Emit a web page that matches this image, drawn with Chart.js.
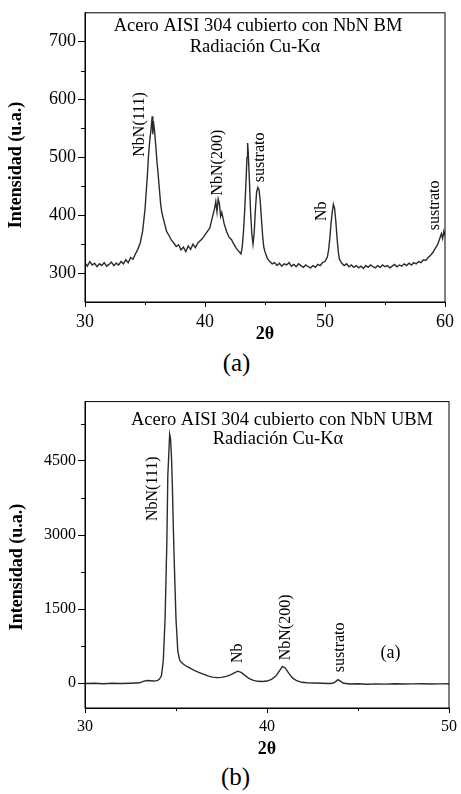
<!DOCTYPE html>
<html>
<head>
<meta charset="utf-8">
<script src="https://cdn.jsdelivr.net/npm/chart.js@4/dist/chart.umd.min.js"></script>
<style>
  body { margin: 0; background: #fff; width: 461px; height: 794px; position: relative; overflow: hidden; }
  .box { position: absolute; left: 0; width: 461px; }
  .pie { position: absolute; width: 461px; text-align: center; font-family: 'Liberation Serif', serif; font-size: 25px; color: #000; }
</style>
</head>
<body>
<div class="box" style="top:0;height:345px"><canvas id="graficoA"></canvas></div>
<div class="pie" style="left:6px;top:349px">(a)</div>
<div class="box" style="top:390px;height:370px"><canvas id="graficoB"></canvas></div>
<div class="pie" style="left:5px;top:763px">(b)</div>
<script>
// Difractograma (a): NbN BM, 2θ vs intensidad
const dosThetaA = [
  30.0, 30.2, 30.4, 30.6, 30.8, 31.0, 31.2, 31.4, 31.6, 31.8, 32.0, 32.2, 32.4, 32.6, 32.8,
  33.0, 33.2, 33.4, 33.6, 33.8, 34.0, 34.2, 34.4, 34.6, 34.8, 35.0, 35.1, 35.2, 35.3, 35.4,
  35.5, 35.6, 35.65, 35.7, 35.8, 35.9, 36.0, 36.1, 36.2, 36.3, 36.4, 36.6, 36.8, 37.0, 37.2,
  37.4, 37.6, 37.8, 38.0, 38.2, 38.4, 38.6, 38.8, 39.0, 39.2, 39.4, 39.6, 39.8, 40.0, 40.2,
  40.4, 40.6, 40.8, 40.9, 41.0, 41.1, 41.2, 41.3, 41.4, 41.6, 41.8, 42.0, 42.2, 42.4, 42.6,
  42.8, 43.0, 43.1, 43.2, 43.3, 43.4, 43.5, 43.55, 43.6, 43.7, 43.8, 43.9, 44.0, 44.1, 44.2,
  44.3, 44.4, 44.5, 44.6, 44.7, 44.8, 44.9, 45.0, 45.2, 45.4, 45.6, 45.8, 46.0, 46.2, 46.4,
  46.6, 46.8, 47.0, 47.2, 47.4, 47.6, 47.8, 48.0, 48.2, 48.4, 48.6, 48.8, 49.0, 49.2, 49.4,
  49.6, 49.8, 50.0, 50.2, 50.3, 50.4, 50.5, 50.6, 50.7, 50.8, 50.9, 51.0, 51.1, 51.2, 51.4,
  51.6, 51.8, 52.0, 52.2, 52.4, 52.6, 52.8, 53.0, 53.2, 53.4, 53.6, 53.8, 54.0, 54.2, 54.4,
  54.6, 54.8, 55.0, 55.2, 55.4, 55.6, 55.8, 56.0, 56.2, 56.4, 56.6, 56.8, 57.0, 57.2, 57.4,
  57.6, 57.8, 58.0, 58.2, 58.4, 58.6, 58.8, 59.0, 59.2, 59.4, 59.6, 59.7, 59.8, 59.9, 60.0
];
const intensidadA = [
  318, 312, 320, 314, 317, 311, 316, 313, 318, 312, 315, 319, 313, 317, 314,
  320, 316, 323, 318, 327, 324, 333, 341, 352, 372, 410, 440, 470, 505, 530,
  548, 571, 540, 563, 545, 520, 492, 470, 445, 420, 405, 388, 372, 365, 357,
  352, 346, 349, 340, 345, 337, 347, 341, 350, 344, 352, 356, 360, 366, 372,
  378, 395, 412, 424, 406, 428, 420, 398, 405, 385, 372, 362, 358, 350, 343,
  338, 333, 345, 370, 405, 450, 500, 525, 510, 460, 405, 368, 350, 370, 410,
  440, 448, 444, 425, 395, 365, 345, 337, 325, 320, 316, 318, 313, 317, 312,
  316, 314, 318, 312, 315, 311, 316, 313, 310, 314, 311, 309, 313, 310, 315,
  313, 318, 320, 328, 340, 360, 385, 405, 419, 412, 390, 362, 338, 324, 317,
  313, 316, 311, 314, 310, 313, 309, 312, 308, 313, 310, 314, 311, 309, 313,
  310, 314, 311, 313, 309, 312, 315, 311, 314, 312, 316, 313, 317, 314, 318,
  316, 320, 318, 323, 322, 327, 331, 336, 343, 350, 362, 368, 360, 372, 365
];
const ticksXA = [30, 40, 50, 60];
const menoresXA = [35, 45, 55];
const ticksYA = [300, 400, 500, 600, 700];
const menoresYA = [350, 450, 550, 650];

// Difractograma (b): NbN UBM
const dosThetaB = [
  30.0, 30.5, 31.0, 31.5, 32.0, 32.5, 33.0, 33.2, 33.4, 33.6, 33.8, 34.0, 34.1, 34.2, 34.3,
  34.4, 34.5, 34.55, 34.6, 34.65, 34.7, 34.75, 34.8, 34.85, 34.9, 35.0, 35.1, 35.2, 35.3, 35.5,
  35.75, 36.0, 36.25, 36.5, 36.75, 37.0, 37.25, 37.5, 37.75, 38.0, 38.2, 38.4, 38.6, 38.8, 39.0,
  39.25, 39.5, 39.75, 40.0, 40.25, 40.5, 40.7, 40.85, 41.0, 41.2, 41.4, 41.6, 41.9, 42.2, 42.6,
  43.0, 43.4, 43.6, 43.75, 43.9, 44.05, 44.2, 44.6, 45.0, 45.5, 46.0, 46.5, 47.0, 47.5, 48.0,
  48.5, 49.0, 49.5, 50.0
];
const intensidadB = [
  -5, 0, -8, 0, -4, 2, 10, 40, 55, 50, 45, 60, 90, 150, 450,
  1300, 2900, 4200, 4600, 5040, 4950, 4600, 4000, 3200, 2500, 1300, 650, 470, 420, 360,
  310, 260, 220, 185, 150, 125, 115, 120, 140, 170, 210, 245, 215, 155, 100,
  60, 40, 35, 45, 80, 150, 260, 340, 310, 200, 110, 60, 20, 10, 5,
  0, -5, 0, 30, 75, 40, 0, -15, -10, -18, -12, -16, -10, -15, -12,
  -10, -14, -12, -10
];
const ticksXB = [30, 40, 50];
const menoresXB = [35, 45];
const ticksYB = [0, 1500, 3000, 4500];
const menoresYB = [750, 2250, 3750, 5250];

const fuente = "'Liberation Serif', 'Times New Roman', serif";

// Textos dentro del gráfico (posición en coordenadas de datos)
const rotulosA = [
  { t: 'NbN(111)', x: 34.58, y: 557, rot: true },
  { t: 'NbN(200)', x: 41.08, y: 491, rot: true },
  { t: 'sustrato', x: 44.58, y: 500, rot: true },
  { t: 'Nb', x: 49.75, y: 407, rot: true },
  { t: 'sustrato', x: 59.17, y: 417, rot: true }
];
const rotulosB = [
  { t: 'NbN(111)', x: 33.71, y: 3937, rot: true },
  { t: 'Nb', x: 38.39, y: 606, rot: true },
  { t: 'NbN(200)', x: 41.01, y: 1131, rot: true },
  { t: 'sustrato', x: 44.0, y: 727, rot: true },
  { t: '(a)', x: 46.79, y: 606, rot: false }
];

// Plugin: marco, ticks menores, títulos y rótulos
const decorado = {
  id: 'decorado',
  afterDraw(chart) {
    const c = chart.options.plugins.decorado;
    const { ctx, chartArea: a, scales } = chart;
    ctx.save();
    ctx.strokeStyle = '#000';
    ctx.lineWidth = 1;
    ctx.strokeRect(a.left, a.top, a.right - a.left, a.bottom - a.top);
    ctx.beginPath();
    c.menoresX.forEach(v => {
      const px = Math.round(scales.x.getPixelForValue(v)) + 0.5;
      ctx.moveTo(px, a.bottom);
      ctx.lineTo(px, a.bottom + 3);
    });
    c.menoresY.forEach(v => {
      const py = Math.round(scales.y.getPixelForValue(v)) + 0.5;
      ctx.moveTo(a.left, py);
      ctx.lineTo(a.left - 4, py);
    });
    ctx.stroke();

    ctx.fillStyle = '#000';
    ctx.textAlign = 'center';
    ctx.textBaseline = 'middle';
    ctx.font = '18.5px ' + fuente;
    c.titulo.forEach(l => ctx.fillText(l.t, l.x, l.y));

    ctx.font = '16px ' + fuente;
    c.rotulos.forEach(r => {
      const px = scales.x.getPixelForValue(r.x);
      const py = scales.y.getPixelForValue(r.y);
      ctx.save();
      ctx.translate(px, py);
      if (r.rot) ctx.rotate(-Math.PI / 2);
      if (!r.rot) ctx.font = '18px ' + fuente;
      ctx.fillText(r.t, 0, 0);
      ctx.restore();
    });

    ctx.save();
    ctx.font = 'bold 18px ' + fuente;
    ctx.translate(c.ejeY.x, c.ejeY.y);
    ctx.rotate(-Math.PI / 2);
    ctx.fillText('Intensidad (u.a.)', 0, 0);
    ctx.restore();
    ctx.restore();
  }
};

function crearGrafico(id, cfg) {
  return new Chart(document.getElementById(id), {
    type: 'line',
    data: {
      datasets: [{
        data: cfg.xs.map((x, i) => ({ x: x, y: cfg.ys[i] })),
        borderColor: '#2b2b2b',
        borderWidth: 1.4,
        pointRadius: 0,
        tension: 0,
        fill: false
      }]
    },
    options: {
      responsive: true,
      maintainAspectRatio: false,
      animation: false,
      devicePixelRatio: 1,
      layout: { padding: { top: cfg.arriba, right: cfg.derecha, left: 0, bottom: 0 } },
      plugins: {
        legend: { display: false },
        tooltip: { enabled: false },
        decorado: { menoresX: cfg.menoresX, menoresY: cfg.menoresY, titulo: cfg.titulo, rotulos: cfg.rotulos, ejeY: cfg.ejeY }
      },
      scales: {
        x: {
          type: 'linear',
          min: cfg.xMin, max: cfg.xMax,
          afterBuildTicks: s => { s.ticks = cfg.ticksX.map(v => ({ value: v })); },
          afterFit: s => { s.height = cfg.altoX; },
          grid: { drawOnChartArea: false, tickLength: 5, color: '#000' },
          border: { color: '#000', width: 1 },
          ticks: { color: '#000', padding: 4, maxRotation: 0, callback: v => String(v), font: { family: fuente, size: cfg.tamTick } },
          title: { display: true, text: '2θ', color: '#000', padding: 0, font: { family: fuente, size: 18, weight: 'bold' } }
        },
        y: {
          min: cfg.yMin, max: cfg.yMax,
          afterBuildTicks: s => { s.ticks = cfg.ticksY.map(v => ({ value: v })); },
          afterFit: s => { s.width = 85; },
          grid: { drawOnChartArea: false, tickLength: 7, color: '#000' },
          border: { color: '#000', width: 1 },
          ticks: { color: '#000', padding: 2, callback: v => String(v), font: { family: fuente, size: cfg.tamTick } }
        }
      }
    },
    plugins: [decorado]
  });
}

crearGrafico('graficoA', {
  xs: dosThetaA, ys: intensidadA,
  xMin: 30, xMax: 60, yMin: 250, yMax: 750,
  ticksX: ticksXA, ticksY: ticksYA, menoresX: menoresXA, menoresY: menoresYA,
  arriba: 12, derecha: 16, altoX: 43, tamTick: 18,
  titulo: [
    { t: 'Acero AISI 304 cubierto con NbN BM', x: 258, y: 26 },
    { t: 'Radiación Cu-Kα', x: 255, y: 47 }
  ],
  rotulos: rotulosA,
  ejeY: { x: 16, y: 165 }
});

crearGrafico('graficoB', {
  xs: dosThetaB, ys: intensidadB,
  xMin: 30, xMax: 50, yMin: -500, yMax: 5700,
  ticksX: ticksXB, ticksY: ticksYB, menoresX: menoresXB, menoresY: menoresYB,
  arriba: 11, derecha: 9, altoX: 52, tamTick: 16,
  titulo: [
    { t: 'Acero AISI 304 cubierto con NbN UBM', x: 282, y: 30 },
    { t: 'Radiación Cu-Kα', x: 278, y: 49 }
  ],
  rotulos: rotulosB,
  ejeY: { x: 17, y: 177 }
});
</script>
</body>
</html>
